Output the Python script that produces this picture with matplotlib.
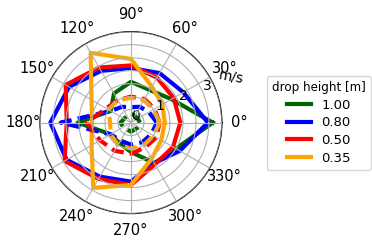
import numpy as np
import matplotlib
matplotlib.use("Agg")
import matplotlib.pyplot as plt

# directions [deg], 30 deg steps
angles_deg = [0, 30, 60, 90, 120, 150, 180, 210, 240, 270, 300, 330]

heights = ["1.00", "0.80", "0.50", "0.35"]
colors = ["darkgreen", "blue", "red", "orange"]

# solid: outer speed profile, dashed: inner profile [m/s]
solid_100 = [3.15, 1.8, 1.45, 1.57, 1.3, 0.9, 2.05, 0.9, 0.9, 1.13, 1.8, 2.0]
solid_080 = [2.96, 2.33, 2.2, 2.1, 2.3, 2.75, 3.1, 2.86, 2.4, 2.27, 1.8, 2.17]
solid_050 = [1.9, 1.9, 2.0, 2.2, 2.45, 2.9, 2.47, 2.95, 2.5, 2.4, 1.85, 1.87]
solid_035 = [1.3, 1.4, 1.6, 2.45, 3.1, 1.75, 1.5, 1.75, 2.9, 2.4, 1.6, 1.35]

dashed_100 = [0.35, 0.3, 0.3, 0.35, 0.3, 0.3, 0.4, 0.35, 0.3, 0.35, 0.3, 0.35]
dashed_080 = [1.0, 0.8, 0.7, 0.6, 0.7, 0.9, 2.7, 0.9, 0.8, 0.85, 0.87, 0.9]
dashed_050 = [1.1, 1.05, 1.05, 1.0, 1.0, 1.1, 1.7, 1.37, 1.25, 1.2, 1.1, 1.13]
dashed_035 = [1.1, 1.0, 1.0, 0.95, 1.0, 1.0, 0.8, 0.9, 1.0, 1.0, 1.0, 1.0]

solids = [solid_100, solid_080, solid_050, solid_035]
dashes = [dashed_100, dashed_080, dashed_050, dashed_035]

r_ticks = [0, 0.5, 1, 1.5, 2, 2.5, 3, 3.5]
r_labels = ["0", "", "1", "", "2", "", "3", ""]

fig = plt.figure(figsize=(3.72, 2.45), dpi=100)
ax = fig.add_axes([0.1075, 0.128, 0.489, 0.743], projection="polar")

theta = np.deg2rad(angles_deg + [angles_deg[0]])
for lab, col, s in zip(heights, colors, solids):
    ax.plot(theta, s + s[:1], color=col, lw=3.0, label=lab, zorder=2)
for col, d in zip(colors, dashes):
    ax.plot(theta, d + d[:1], color=col, lw=3.0, ls=(0, (3, 1.5)), zorder=2)

ax.set_ylim(0, 3.5)
ax.set_yticks(r_ticks)
ax.set_yticklabels(r_labels, fontsize=10)
ax.set_rlabel_position(22.5)
ax.set_thetagrids(angles_deg, [f"{a}°" for a in angles_deg], fontsize=10.5)
ax.tick_params(axis="x", pad=2)
ax.grid(True, color="#b0b0b0", lw=0.8)
ax.set_axisbelow(False)
for gl in ax.xaxis.get_gridlines() + ax.yaxis.get_gridlines():
    gl.set_zorder(3)
ax.spines["polar"].set_linewidth(0.9)
ax.text(0.62, 0.685, "m/s", transform=fig.transFigure, fontsize=10,
        ha="center", va="center", rotation=-10)

leg = fig.legend(loc="center", bbox_to_anchor=(0.857, 0.498), title="drop height [m]",
                 fontsize=9.5, title_fontsize=8.6, handlelength=1.8, frameon=True,
                 borderpad=0.4, labelspacing=0.35, borderaxespad=0.2)
leg.get_frame().set_edgecolor("#cccccc")

fig.savefig("out.png", dpi=100)
